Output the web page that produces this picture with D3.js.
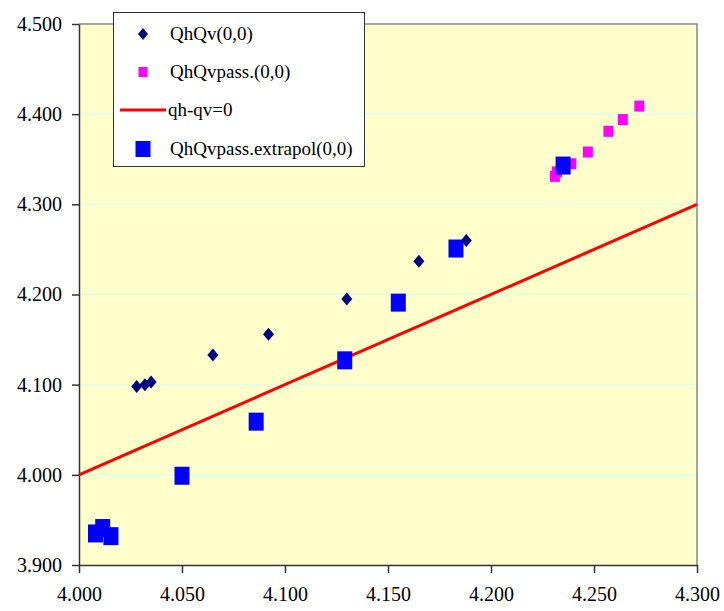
<!DOCTYPE html>
<html>
<head>
<meta charset="utf-8">
<script src="https://cdn.jsdelivr.net/npm/d3@7"></script>
</head>
<body style="margin:0">
<svg id="chart" width="724" height="611"></svg>
<script>
// Axis ticks
const xTicks = [4.00, 4.05, 4.10, 4.15, 4.20, 4.25, 4.30];
const yTicks = [3.90, 4.00, 4.10, 4.20, 4.30, 4.40, 4.50];

// QhQv(0,0) measurements
const qhqvX = [4.028, 4.032, 4.035, 4.065, 4.092, 4.130, 4.165, 4.188, 4.234];
const qhqvY = [4.098, 4.100, 4.103, 4.133, 4.156, 4.195, 4.237, 4.260, 4.343];

// QhQvpass.(0,0) measurements
const passX = [4.231, 4.232, 4.234, 4.239, 4.247, 4.257, 4.264, 4.272];
const passY = [4.331, 4.336, 4.342, 4.345, 4.358, 4.381, 4.394, 4.409];

// QhQvpass.extrapol(0,0) values
const extraX = [4.008, 4.0155, 4.0115, 4.050, 4.086, 4.129, 4.155, 4.183, 4.235];
const extraY = [3.935, 3.932, 3.941, 3.999, 4.059, 4.127, 4.191, 4.251, 4.343];

// Reference line qh - qv = 0
const refLine = [4.00, 4.30];

const legendLabels = ["QhQv(0,0)", "QhQvpass.(0,0)", "qh-qv=0", "QhQvpass.extrapol(0,0)"];

const svg = d3.select("#chart");
const plot = { left: 79, right: 697, top: 24, bottom: 565 };

const x = d3.scaleLinear().domain([4.0, 4.3]).range([plot.left, plot.right]);
const y = d3.scaleLinear().domain([3.9, 4.5]).range([plot.bottom, plot.top]);

// plot background
svg.append("rect")
  .attr("x", plot.left).attr("y", plot.top)
  .attr("width", plot.right - plot.left).attr("height", plot.bottom - plot.top)
  .attr("fill", "#ffffcc");

// horizontal gridlines
svg.append("g").selectAll("line")
  .data(yTicks.slice(1, -1))
  .join("line")
  .attr("x1", plot.left).attr("x2", plot.right)
  .attr("y1", d => y(d)).attr("y2", d => y(d))
  .attr("stroke", "#dcffea").attr("stroke-width", 1.5);

// gray frame on top and right
svg.append("path")
  .attr("d", `M${plot.left},${plot.top}H${plot.right}V${plot.bottom}`)
  .attr("fill", "none").attr("stroke", "#888888").attr("stroke-width", 1.5);

// axes
const xAxis = d3.axisBottom(x).tickValues(xTicks).tickFormat(d3.format(".3f"))
  .tickSize(8).tickSizeOuter(0).tickPadding(14);
const yAxis = d3.axisLeft(y).tickValues(yTicks).tickFormat(d3.format(".3f"))
  .tickSize(7).tickSizeOuter(0).tickPadding(10);

const gx = svg.append("g").attr("transform", `translate(0,${plot.bottom})`).call(xAxis);
const gy = svg.append("g").attr("transform", `translate(${plot.left},0)`).call(yAxis);
[gx, gy].forEach(g => {
  g.attr("font-family", "Liberation Serif").attr("font-size", 20);
  g.select(".domain").attr("stroke", "#333333").attr("stroke-width", 1.5);
  g.selectAll(".tick line").attr("stroke", "#333333").attr("stroke-width", 1.5);
  g.selectAll(".tick text")
    .attr("font-family", "Liberation Serif")
    .attr("font-size", 20)
    .attr("fill", "#000");
});
gx.selectAll(".tick text").attr("dy", "0.71em");

// reference line
svg.append("line")
  .attr("x1", x(refLine[0])).attr("y1", y(refLine[0]))
  .attr("x2", x(refLine[1])).attr("y2", y(refLine[1]))
  .attr("stroke", "#ff0000").attr("stroke-width", 3);

const diamond = (cx, cy, hw, hh) => `M${cx},${cy - hh}L${cx + hw},${cy}L${cx},${cy + hh}L${cx - hw},${cy}Z`;

// QhQv diamonds
svg.append("g").selectAll("path")
  .data(d3.zip(qhqvX, qhqvY))
  .join("path")
  .attr("d", d => diamond(x(d[0]), y(d[1]), 5.5, 6.5))
  .attr("fill", "#000080");

// QhQvpass squares
svg.append("g").selectAll("rect")
  .data(d3.zip(passX, passY))
  .join("rect")
  .attr("x", d => x(d[0]) - 5).attr("y", d => y(d[1]) - 5.5)
  .attr("width", 10).attr("height", 11)
  .attr("fill", "#ff00ff");

// extrapolated squares
svg.append("g").selectAll("rect")
  .data(d3.zip(extraX, extraY))
  .join("rect")
  .attr("x", d => x(d[0]) - 7.5).attr("y", d => y(d[1]) - 9)
  .attr("width", 15).attr("height", 18)
  .attr("fill", "#0000ff");

// legend
const lg = svg.append("g");
lg.append("rect")
  .attr("x", 113.5).attr("y", 12.5).attr("width", 251).attr("height", 154)
  .attr("fill", "#ffffff").attr("stroke", "#333333").attr("stroke-width", 1);

const rowY = [34, 72, 110, 149];
const symX = 143;
lg.append("path").attr("d", diamond(symX, rowY[0], 5, 6)).attr("fill", "#000080");
lg.append("rect").attr("x", symX - 4.5).attr("y", rowY[1] - 5).attr("width", 9).attr("height", 10).attr("fill", "#ff00ff");
lg.append("line").attr("x1", 120).attr("x2", 166).attr("y1", rowY[2]).attr("y2", rowY[2])
  .attr("stroke", "#ff0000").attr("stroke-width", 3);
lg.append("rect").attr("x", symX - 7.5).attr("y", rowY[3] - 8).attr("width", 15).attr("height", 16).attr("fill", "#0000ff");

lg.selectAll("text")
  .data(legendLabels)
  .join("text")
  .attr("x", (d, i) => i === 2 ? 168 : 170)
  .attr("y", (d, i) => rowY[i] + 6)
  .attr("font-family", "Liberation Serif")
  .attr("font-size", 19)
  .attr("fill", "#000")
  .text(d => d);
</script>
</body>
</html>
